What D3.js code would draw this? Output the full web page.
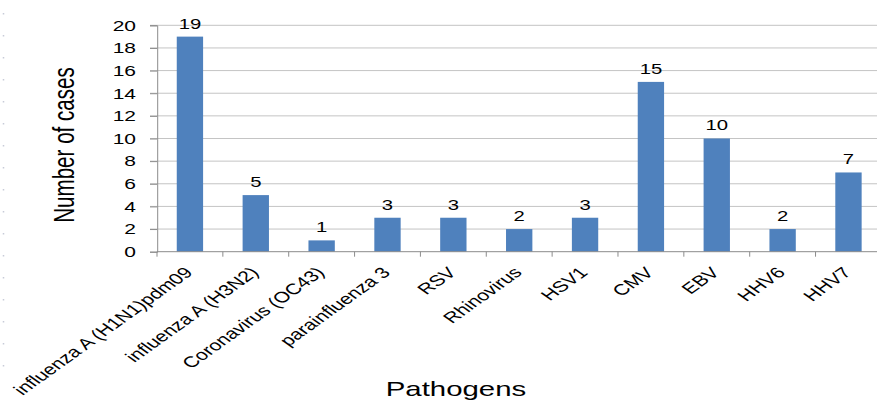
<!DOCTYPE html>
<html>
<head>
<meta charset="utf-8">
<script src="https://cdn.jsdelivr.net/npm/d3@7"></script>
<style>
  html, body { margin: 0; padding: 0; background: #fff; }
  svg { display: block; }
  text { font-family: "Liberation Sans", Arial, sans-serif; fill: #000; }
</style>
</head>
<body>
<svg id="chart" width="877" height="401"></svg>
<script>
// Pathogens detected and the number of cases for each
const categories = [
  "influenza A (H1N1)pdm09", "influenza A (H3N2)", "Coronavirus (OC43)",
  "parainfluenza 3", "RSV", "Rhinovirus", "HSV1", "CMV", "EBV", "HHV6", "HHV7"
];
const cases = [19, 5, 1, 3, 3, 2, 3, 15, 10, 2, 7];
const yTicks = [0, 2, 4, 6, 8, 10, 12, 14, 16, 18, 20];

const W = 877, H = 401;
const sx = 1.4;               // chart is drawn horizontally stretched
const svg = d3.select("#chart");

// faint dotted guide on the far left edge
svg.append("line")
  .attr("x1", 3.5).attr("x2", 3.5).attr("y1", 13).attr("y2", 370)
  .attr("stroke", "#c8cbd8").attr("stroke-width", 1.5)
  .attr("stroke-dasharray", "1.5,20.5");

const g = svg.append("g").attr("transform", `scale(${sx},1)`);

const plotLeft = 157 / sx, plotRight = 881.4 / sx;
const plotTop = 25.3, plotBottom = 251.7;

const x = d3.scaleBand()
  .domain(categories)
  .range([plotLeft, plotRight])
  .paddingInner(0.6)
  .paddingOuter(0.3);

const y = d3.scaleLinear().domain([0, 20]).range([plotBottom, plotTop]);

// horizontal gridlines
g.append("g").selectAll("line")
  .data(yTicks.filter(t => t > 0))
  .join("line")
  .attr("x1", plotLeft - 5).attr("x2", W / sx)
  .attr("y1", d => y(d)).attr("y2", d => y(d))
  .attr("stroke", "#c4c4c4").attr("stroke-width", 1)
  .attr("vector-effect", "non-scaling-stroke");

// y axis with labels
const yAxis = d3.axisLeft(y).tickValues(yTicks).tickSize(5).tickPadding(10);
const ya = g.append("g").attr("transform", `translate(${plotLeft},0)`).call(yAxis);
ya.select(".domain").attr("stroke", "#8c8c8c").attr("vector-effect", "non-scaling-stroke");
ya.selectAll(".tick line").attr("stroke", "#8c8c8c").attr("vector-effect", "non-scaling-stroke");
ya.selectAll(".tick text")
  .attr("font-size", 15)
  .attr("font-family", "Liberation Sans, Arial, sans-serif")
  .attr("fill", "#000");

// bars
g.append("g").selectAll("rect")
  .data(categories)
  .join("rect")
  .attr("x", d => x(d))
  .attr("width", x.bandwidth())
  .attr("y", (d, i) => y(cases[i]))
  .attr("height", (d, i) => y(0) - y(cases[i]))
  .attr("fill", "#4f81bd");

// x axis line and tick marks between categories
g.append("line")
  .attr("x1", plotLeft).attr("x2", W / sx)
  .attr("y1", plotBottom).attr("y2", plotBottom)
  .attr("stroke", "#8c8c8c").attr("vector-effect", "non-scaling-stroke");
const bounds = d3.range(categories.length + 1).map(i => plotLeft + i * x.step());
g.append("g").selectAll("line")
  .data(bounds)
  .join("line")
  .attr("x1", d => d).attr("x2", d => d)
  .attr("y1", plotBottom).attr("y2", plotBottom + 5)
  .attr("stroke", "#8c8c8c").attr("vector-effect", "non-scaling-stroke");

// value labels
g.append("g").selectAll("text")
  .data(categories)
  .join("text")
  .attr("x", d => x(d) + x.bandwidth() / 2)
  .attr("y", (d, i) => y(cases[i]) - 8)
  .attr("text-anchor", "middle")
  .attr("font-size", 14.5)
  .text((d, i) => cases[i]);

// rotated category labels
g.append("g").selectAll("text")
  .data(categories)
  .join("text")
  .attr("transform", d => `translate(${x(d) + x.bandwidth() / 2 - 1},${plotBottom + 18}) rotate(-45)`)
  .attr("text-anchor", "end")
  .attr("dy", "0.35em")
  .attr("font-size", 15.2)
  .text(d => d);

// axis titles
g.append("text")
  .attr("transform", `translate(${74 / sx},145) rotate(-90)`)
  .attr("text-anchor", "middle")
  .attr("font-size", 20.6)
  .text("Number of cases");

g.append("text")
  .attr("x", 456 / sx).attr("y", 396)
  .attr("text-anchor", "middle")
  .attr("font-size", 21)
  .text("Pathogens");
</script>
</body>
</html>
